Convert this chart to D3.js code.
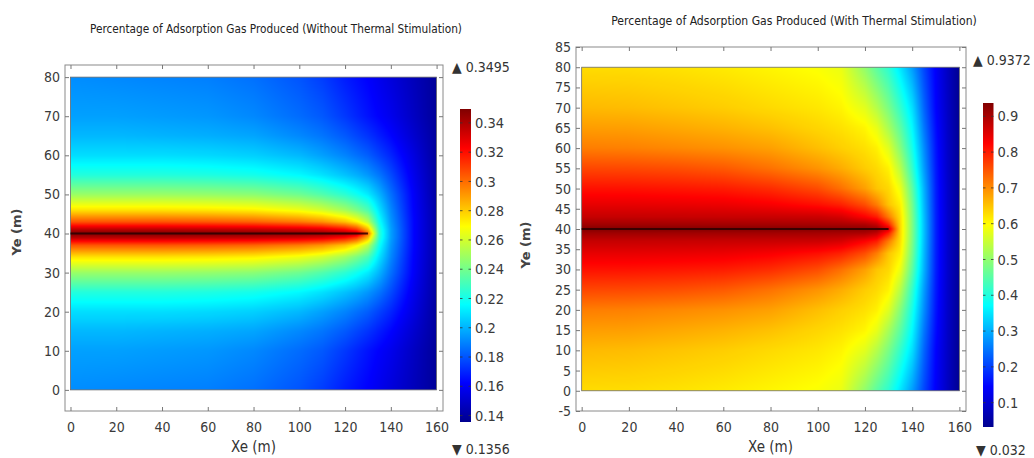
<!DOCTYPE html>
<html><head><meta charset="utf-8">
<script src="https://cdn.jsdelivr.net/npm/d3@7"></script>
<style>
html,body{margin:0;padding:0;background:#fff;}
svg{display:block;}
text{font-family:"Liberation Sans Narrow","Arial Narrow","DejaVu Sans Condensed",sans-serif;}
</style></head><body>
<svg id="chart" width="1034" height="458"></svg>
<script>
// ---------------- data ----------------
const leftTitle = "Percentage of Adsorption Gas Produced (Without Thermal Stimulation)";
const rightTitle = "Percentage of Adsorption Gas Produced (With Thermal Stimulation)";
const xLabel = "Xe (m)";
const yLabel = "Ye (m)";
const xTicks = [0, 20, 40, 60, 80, 100, 120, 140, 160];
const leftYTicks = [0, 10, 20, 30, 40, 50, 60, 70, 80];
const rightYTicks = [-5, 0, 5, 10, 15, 20, 25, 30, 35, 40, 45, 50, 55, 60, 65, 70, 75, 80, 85];
const leftBarTicks = [0.14, 0.16, 0.18, 0.2, 0.22, 0.24, 0.26, 0.28, 0.3, 0.32, 0.34];
const rightBarTicks = [0.1, 0.2, 0.3, 0.4, 0.5, 0.6, 0.7, 0.8, 0.9];
const leftRange = [0.1356, 0.3495];
const rightRange = [0.032, 0.9372];
const fractureX = [0, 130];
const fractureY = [40, 40];

// grid rows (Ye, m) shared by both fields
const gridY = [0, 10, 15, 20, 25, 30, 34, 37, 39, 40, 41, 43, 46, 50, 55, 60, 65, 70, 80];

// left field: columns at these Xe positions, each a list of values over gridY
const leftGridX = [0, 20, 40, 60, 80, 100, 110, 120, 125, 130, 135, 140, 150, 160];
const leftValuesByColumn = [
  [0.192,0.196,0.201,0.209,0.223,0.248,0.275,0.305,0.338,0.349,0.338,0.305,0.275,0.248,0.223,0.209,0.201,0.196,0.192],
  [0.191,0.196,0.201,0.209,0.223,0.248,0.275,0.305,0.338,0.349,0.338,0.305,0.275,0.248,0.223,0.209,0.201,0.196,0.191],
  [0.190,0.195,0.200,0.209,0.223,0.248,0.275,0.305,0.338,0.349,0.338,0.305,0.275,0.248,0.223,0.209,0.200,0.195,0.190],
  [0.189,0.194,0.199,0.208,0.222,0.247,0.274,0.304,0.337,0.349,0.337,0.304,0.274,0.247,0.222,0.208,0.199,0.194,0.189],
  [0.186,0.191,0.197,0.206,0.220,0.245,0.272,0.302,0.336,0.348,0.336,0.302,0.272,0.245,0.220,0.206,0.197,0.191,0.186],
  [0.180,0.185,0.191,0.201,0.215,0.239,0.266,0.297,0.333,0.347,0.333,0.297,0.266,0.239,0.215,0.201,0.191,0.185,0.180],
  [0.175,0.181,0.187,0.196,0.210,0.233,0.260,0.292,0.330,0.346,0.330,0.292,0.260,0.233,0.210,0.196,0.187,0.181,0.175],
  [0.168,0.174,0.181,0.190,0.203,0.225,0.250,0.282,0.322,0.343,0.322,0.282,0.250,0.225,0.203,0.190,0.181,0.174,0.168],
  [0.165,0.170,0.177,0.186,0.199,0.219,0.242,0.272,0.312,0.338,0.312,0.272,0.242,0.219,0.199,0.186,0.177,0.170,0.165],
  [0.162,0.166,0.173,0.182,0.194,0.212,0.232,0.255,0.285,0.300,0.285,0.255,0.232,0.212,0.194,0.182,0.173,0.166,0.162],
  [0.158,0.162,0.168,0.176,0.187,0.200,0.210,0.218,0.224,0.225,0.224,0.218,0.210,0.200,0.187,0.176,0.168,0.162,0.158],
  [0.154,0.158,0.163,0.170,0.178,0.186,0.191,0.194,0.196,0.196,0.196,0.194,0.191,0.186,0.178,0.170,0.163,0.158,0.154],
  [0.146,0.148,0.151,0.155,0.158,0.161,0.162,0.163,0.163,0.163,0.163,0.163,0.162,0.161,0.158,0.155,0.151,0.148,0.146],
  [0.138,0.138,0.139,0.139,0.140,0.140,0.141,0.141,0.141,0.141,0.141,0.141,0.141,0.140,0.140,0.139,0.139,0.138,0.138]
];

// right field
const rightGridX = [0, 20, 40, 60, 80, 100, 110, 120, 125, 130, 135, 140, 145, 150, 155, 160];
const rightValuesByColumn = [
  [0.628,0.660,0.685,0.713,0.762,0.810,0.845,0.875,0.910,0.935,0.910,0.875,0.845,0.810,0.762,0.713,0.685,0.660,0.628],
  [0.627,0.657,0.683,0.710,0.760,0.809,0.845,0.875,0.910,0.935,0.910,0.875,0.845,0.809,0.760,0.710,0.683,0.657,0.627],
  [0.622,0.650,0.675,0.703,0.755,0.805,0.843,0.874,0.909,0.935,0.909,0.874,0.843,0.805,0.755,0.703,0.675,0.650,0.622],
  [0.615,0.642,0.666,0.695,0.745,0.800,0.840,0.873,0.908,0.934,0.908,0.873,0.840,0.800,0.745,0.695,0.666,0.642,0.615],
  [0.605,0.630,0.653,0.682,0.723,0.785,0.830,0.872,0.907,0.933,0.907,0.872,0.830,0.785,0.723,0.682,0.653,0.630,0.605],
  [0.594,0.618,0.634,0.655,0.693,0.757,0.812,0.870,0.905,0.932,0.905,0.870,0.812,0.757,0.693,0.655,0.634,0.618,0.594],
  [0.580,0.606,0.623,0.640,0.671,0.725,0.795,0.860,0.903,0.930,0.903,0.860,0.795,0.725,0.671,0.640,0.623,0.606,0.580],
  [0.500,0.572,0.605,0.624,0.643,0.683,0.756,0.825,0.900,0.926,0.900,0.825,0.756,0.683,0.643,0.624,0.605,0.572,0.500],
  [0.452,0.532,0.578,0.610,0.630,0.650,0.714,0.800,0.880,0.920,0.880,0.800,0.714,0.650,0.630,0.610,0.578,0.532,0.452],
  [0.410,0.480,0.521,0.570,0.609,0.632,0.650,0.715,0.800,0.860,0.800,0.715,0.650,0.632,0.609,0.570,0.521,0.480,0.410],
  [0.350,0.417,0.454,0.490,0.535,0.582,0.610,0.625,0.630,0.630,0.630,0.625,0.610,0.582,0.535,0.490,0.454,0.417,0.350],
  [0.285,0.345,0.370,0.393,0.420,0.455,0.475,0.483,0.485,0.485,0.485,0.483,0.475,0.455,0.420,0.393,0.370,0.345,0.285],
  [0.208,0.235,0.252,0.270,0.285,0.303,0.310,0.315,0.317,0.317,0.317,0.315,0.310,0.303,0.285,0.270,0.252,0.235,0.208],
  [0.140,0.147,0.156,0.163,0.168,0.172,0.174,0.175,0.175,0.175,0.175,0.175,0.174,0.172,0.168,0.163,0.156,0.147,0.140],
  [0.084,0.087,0.089,0.091,0.092,0.094,0.094,0.095,0.095,0.095,0.095,0.095,0.094,0.094,0.092,0.091,0.089,0.087,0.084],
  [0.034,0.035,0.036,0.037,0.038,0.039,0.040,0.040,0.040,0.040,0.040,0.040,0.040,0.039,0.038,0.037,0.036,0.035,0.034]
];

// jet colour stops (fraction of range -> colour)
const jetStops = [0, 0.125, 0.375, 0.625, 0.875, 1];
const jetColors = ["#00008f", "#0000ff", "#00ffff", "#ffff00", "#ff0000", "#800000"];

// ---------------- drawing ----------------
const svg = d3.select("#chart");
const defs = svg.append("defs");
const plainFmt = d => String(d);

function makeJet(range) {
  return d3.scaleLinear()
    .domain(jetStops.map(t => range[0] + t * (range[1] - range[0])))
    .range(jetColors).clamp(true);
}

function fitText(sel, baseSize, targetW) {
  sel.attr("font-size", baseSize);
  const w = sel.node().getComputedTextLength();
  if (w > 0) sel.attr("font-size", (baseSize * targetW / w).toFixed(2));
}

function fieldImage(g, xs, ys, gx, gy, cols, color, range) {
  const px0 = xs(0), px1 = xs(160), py0 = ys(80), py1 = ys(0);
  const W = Math.round(px1 - px0), H = Math.round(py1 - py0);
  const cv = document.createElement("canvas");
  cv.width = W; cv.height = H;
  const ctx = cv.getContext("2d");
  const img = ctx.createImageData(W, H);
  const N = 1024, lut = [];
  for (let k = 0; k < N; k++) {
    const c = d3.rgb(color(range[0] + (range[1] - range[0]) * k / (N - 1)));
    lut.push([c.r, c.g, c.b]);
  }
  for (let j = 0; j < H; j++) {
    const dy = Math.max(0, Math.min(80, ys.invert(py0 + (j + 0.5) * (py1 - py0) / H)));
    const b = Math.min(gy.length - 2, Math.max(0, d3.bisectRight(gy, dy) - 1));
    const ty = (dy - gy[b]) / (gy[b + 1] - gy[b]);
    for (let i = 0; i < W; i++) {
      const dx = Math.max(0, Math.min(160, xs.invert(px0 + (i + 0.5) * (px1 - px0) / W)));
      const a = Math.min(gx.length - 2, Math.max(0, d3.bisectRight(gx, dx) - 1));
      const tx = (dx - gx[a]) / (gx[a + 1] - gx[a]);
      const v00 = cols[a][b], v01 = cols[a][b + 1], v10 = cols[a + 1][b], v11 = cols[a + 1][b + 1];
      const v = (v00 * (1 - tx) + v10 * tx) * (1 - ty) + (v01 * (1 - tx) + v11 * tx) * ty;
      let k = Math.round((v - range[0]) / (range[1] - range[0]) * (N - 1));
      k = Math.max(0, Math.min(N - 1, k));
      const o = (j * W + i) * 4, c = lut[k];
      img.data[o] = c[0]; img.data[o + 1] = c[1]; img.data[o + 2] = c[2]; img.data[o + 3] = 255;
    }
  }
  ctx.putImageData(img, 0, 0);
  g.append("image")
    .attr("href", cv.toDataURL())
    .attr("x", px0).attr("y", py0)
    .attr("width", px1 - px0).attr("height", py1 - py0)
    .attr("preserveAspectRatio", "none");
  g.append("rect")
    .attr("x", px0).attr("y", py0)
    .attr("width", px1 - px0).attr("height", py1 - py0)
    .attr("fill", "none").attr("stroke", "#6a6a6a").attr("stroke-width", 0.8);
}

function panel(cfg) {
  const g = svg.append("g");
  const xs = d3.scaleLinear().domain(cfg.xDom).range([cfg.left, cfg.right]);
  const ys = d3.scaleLinear().domain(cfg.yDom).range([cfg.bottom, cfg.top]);
  const color = makeJet(cfg.range);

  fieldImage(g, xs, ys, cfg.gridX, gridY, cfg.cols, color, cfg.range);

  g.append("line")
    .attr("x1", xs(fractureX[0])).attr("x2", xs(fractureX[1]))
    .attr("y1", ys(fractureY[0])).attr("y2", ys(fractureY[1]))
    .attr("stroke", "#2a0000").attr("stroke-width", 1.8).attr("stroke-opacity", 0.85);

  g.append("rect")
    .attr("x", cfg.left).attr("y", cfg.top)
    .attr("width", cfg.right - cfg.left).attr("height", cfg.bottom - cfg.top)
    .attr("fill", "none").attr("stroke", "#8a8a8a").attr("stroke-width", 1);

  const styleAxis = sel => {
    sel.select(".domain").remove();
    sel.attr("font-size", 14).attr("font-family", null);
    sel.selectAll(".tick line").attr("stroke", "#777");
    sel.selectAll(".tick text").attr("fill", "#3a3a3a");
  };
  g.append("g").attr("transform", `translate(0,${cfg.bottom})`)
    .call(d3.axisBottom(xs).tickValues(xTicks).tickSize(-4).tickPadding(11).tickFormat(plainFmt))
    .call(styleAxis);
  g.append("g").attr("transform", `translate(0,${cfg.top})`)
    .call(d3.axisTop(xs).tickValues(xTicks).tickSize(-4).tickFormat(""))
    .call(styleAxis);
  g.append("g").attr("transform", `translate(${cfg.left},0)`)
    .call(d3.axisLeft(ys).tickValues(cfg.yTicks).tickSize(-4).tickPadding(5).tickFormat(plainFmt))
    .call(styleAxis);
  g.append("g").attr("transform", `translate(${cfg.right},0)`)
    .call(d3.axisRight(ys).tickValues(cfg.yTicks).tickSize(-4).tickFormat(""))
    .call(styleAxis);

  const t = g.append("text").text(cfg.title)
    .attr("x", cfg.titleX).attr("y", cfg.titleY).attr("text-anchor", "middle")
    .attr("fill", "#222");
  fitText(t, 15, cfg.titleW);
  g.append("text").text(xLabel)
    .attr("x", xs(80) + cfg.xLabelDx).attr("y", 452).attr("text-anchor", "middle")
    .attr("font-size", 15).attr("fill", "#333");
  g.append("text").text(yLabel)
    .attr("transform", `translate(${cfg.yLabelX},${cfg.yLabelY}) rotate(-90)`)
    .attr("text-anchor", "middle")
    .style("font-family", "'DejaVu Sans', sans-serif")
    .attr("font-weight", "bold").attr("font-size", 13).attr("fill", "#444");

  const cb = cfg.bar;
  const cs = d3.scaleLinear().domain(cfg.range).range([cb.bottom, cb.top]);
  const gid = "grad" + cfg.id;
  const grad = defs.append("linearGradient").attr("id", gid)
    .attr("x1", 0).attr("x2", 0).attr("y1", 1).attr("y2", 0);
  jetStops.forEach((s, i) => grad.append("stop").attr("offset", s).attr("stop-color", jetColors[i]));
  g.append("rect").attr("x", cb.x).attr("y", cb.top)
    .attr("width", cb.w).attr("height", cb.bottom - cb.top)
    .attr("fill", `url(#${gid})`);
  const cbt = g.append("g");
  cfg.barTicks.forEach(v => {
    cbt.append("line").attr("x1", cb.x + cb.w - 2.5).attr("x2", cb.x + cb.w)
      .attr("y1", cs(v)).attr("y2", cs(v)).attr("stroke", "#333").attr("stroke-width", 0.8);
    cbt.append("line").attr("x1", cb.x).attr("x2", cb.x + 2.5)
      .attr("y1", cs(v)).attr("y2", cs(v)).attr("stroke", "#333").attr("stroke-width", 0.8);
    cbt.append("text").text(String(v))
      .attr("x", cb.x + cb.w + 4).attr("y", cs(v)).attr("dy", "0.35em")
      .attr("font-size", 14.5).attr("fill", "#3a3a3a");
  });
  g.append("text").text("\u25B2 " + cfg.range[1])
    .attr("x", cfg.maxX).attr("y", cfg.maxY).attr("dy", "0.35em")
    .attr("font-size", 14).attr("fill", "#333");
  g.append("text").text("\u25BC " + cfg.range[0])
    .attr("x", cfg.minX).attr("y", cfg.minY).attr("dy", "0.35em")
    .attr("font-size", 14).attr("fill", "#333");
}

panel({
  id: "L", title: leftTitle, titleX: 276, titleY: 33, titleW: 372,
  xDom: [-2.4, 162.8], yDom: [-5.4, 83.1],
  left: 65, right: 443, top: 65, bottom: 411,
  gridX: leftGridX, cols: leftValuesByColumn, range: leftRange,
  yTicks: leftYTicks, xLabelDx: 0, yLabelX: 21, yLabelY: 232,
  bar: {x: 460, w: 11, top: 109, bottom: 422}, barTicks: leftBarTicks,
  maxX: 452, maxY: 67, minX: 452, minY: 449
});
panel({
  id: "R", title: rightTitle, titleX: 794, titleY: 25, titleW: 366,
  xDom: [-2.4, 162.8], yDom: [-5, 85],
  left: 576, right: 966, top: 47, bottom: 411,
  gridX: rightGridX, cols: rightValuesByColumn, range: rightRange,
  yTicks: rightYTicks, xLabelDx: 0, yLabelX: 530, yLabelY: 245,
  bar: {x: 983, w: 10.5, top: 103, bottom: 427}, barTicks: rightBarTicks,
  maxX: 973, maxY: 60, minX: 976, minY: 450
});
</script>
</body></html>
